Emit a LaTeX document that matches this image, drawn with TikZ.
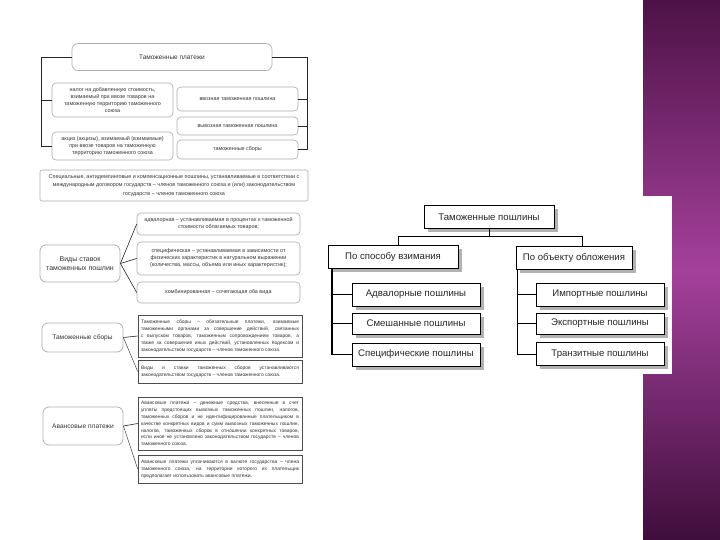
\documentclass[tikz,border=0pt]{standalone}
\usepackage{fontspec}
\setmainfont{Liberation Sans}
\usetikzlibrary{shadows}
\definecolor{bandtop}{HTML}{4E1247}
\definecolor{bandmid}{HTML}{A4419C}
\definecolor{bandbot}{HTML}{3F0E3B}
\definecolor{txt}{HTML}{333333}
\begin{document}
\begin{tikzpicture}[x=1pt,y=-1pt,
  small/.style={font=\fontsize{5.4}{7}\selectfont, text=txt},
  rbox/.style={draw=gray!65, rounded corners=4pt, line width=0.6pt, fill=white, align=center, inner sep=1pt, small},
  head/.style={draw=gray!60, rounded corners=6pt, line width=0.8pt, fill=white, align=center, inner sep=1pt, font=\fontsize{6.6}{9}\selectfont, text=txt},
  jbox/.style={draw=black!70, line width=0.6pt, fill=white, align=justify, inner xsep=3pt, inner ysep=2pt, font=\fontsize{4.9}{6.9}\selectfont\sloppy, text=txt},
  conn/.style={draw=black!85, line width=0.6pt},
  dbox/.style={draw=black, line width=0.7pt, fill=white, font=\fontsize{9.6}{11}\selectfont, text=black!85, minimum height=23pt, inner sep=2pt, drop shadow={shadow xshift=3.5pt, shadow yshift=-3.5pt, fill=black!30, opacity=1}},
  dconn/.style={draw=black, line width=0.7pt}
]
\useasboundingbox (0,0) rectangle (720,540);
\fill[white] (0,0) rectangle (720,540);
% purple band
\shade[top color=bandtop, bottom color=bandbot, middle color=bandmid] (643,0) rectangle (720,540);
% white panel of the right diagram
\fill[white] (322,196) rectangle (672,374);

% ---------------- Section 1 : Таможенные платежи
\node[rbox, font=\fontsize{6.5}{8}\selectfont, minimum width=200pt, minimum height=27pt, rounded corners=6pt] (tp) at (172,57) {Таможенные платежи};
\node[rbox, minimum width=121pt, minimum height=34pt] (lb1) at (112.5,100) {налог на добавленную стоимость,\\ взимаемый при ввозе товаров на\\ таможенную территорию таможенного\\ союза};
\node[rbox, minimum width=121pt, minimum height=28pt] (lb2) at (112.5,146) {акциз (акцизы), взимаемый (взимаемые)\\ при ввозе товаров на таможенную\\ территорию таможенного союза};
\node[rbox, minimum width=121pt, minimum height=24pt] (rb1) at (237.5,99) {ввозная таможенная пошлина};
\node[rbox, minimum width=121pt, minimum height=18pt] (rb2) at (237.5,126) {вывозная таможенная пошлина};
\node[rbox, minimum width=121pt, minimum height=19pt] (rb3) at (237.5,149.5) {таможенные сборы};
\coordinate (LL) at (41,0);
\coordinate (RR) at (307,0);
\draw[conn] (tp.west) -| (LL |- lb2.west) -- (lb2.west);
\draw[conn] (LL |- lb1.west) -- (lb1.west);
\draw[conn] (tp.east) -| (RR |- rb3.east) -- (rb3.east);
\draw[conn] (RR |- rb1.east) -- (rb1.east);
\draw[conn] (RR |- rb2.east) -- (rb2.east);
\node[rbox, font=\fontsize{5.4}{8.2}\selectfont, rounded corners=2pt, minimum width=268pt, minimum height=31pt] (wd) at (174,185.5) {Специальные, антидемпинговые и компенсационные пошлины, устанавливаемые в соответствии с\\ международным договором государств – членов таможенного союза и (или) законодательством\\ государств – членов таможенного союза};

% ---------------- Section 2 : Виды ставок
\node[head, font=\fontsize{7}{9.5}\selectfont, minimum width=80pt, minimum height=37pt] (vs) at (80,263.5) {Виды ставок\\ таможенных пошлин};
\node[rbox, minimum width=163pt, minimum height=22pt] (va) at (218.5,224) {адвалорная – устанавливаемая в процентах к таможенной\\ стоимости облагаемых товаров;};
\node[rbox, minimum width=163pt, minimum height=33pt] (vb) at (218.5,258.5) {специфическая – устанавливаемая в зависимости от\\ физических характеристик в натуральном выражении\\ (количества, массы, объема или иных характеристик);};
\node[rbox, minimum width=163pt, minimum height=21pt] (vc) at (218.5,292.5) {комбинированная – сочетающая оба вида};
\draw[conn] (vs.east) -- (va.west);
\draw[conn] (vs.east) -- (vb.west);
\draw[conn] (vs.east) -- (vc.west);

% ---------------- Section 3 : Таможенные сборы
\node[head, minimum width=81pt, minimum height=29pt] (ts) at (82.5,337.5) {Таможенные сборы};
\node[jbox, text width=158pt, minimum height=42pt] (tsa) at (220,336) {Таможенные сборы – обязательные платежи, взимаемые таможенными органами за совершение действий, связанных с выпуском товаров, таможенным сопровождением товаров, а также за совершение иных действий, установленных Кодексом и законодательством государств – членов таможенного союза.};
\node[jbox, text width=158pt, minimum height=23pt] (tsb) at (220,371.5) {Виды и ставки таможенных сборов устанавливаются\linebreak законодательством государств – членов таможенного союза.};
\draw[conn] (ts.east) -- (tsa.west);
\draw[conn, line width=0.4pt] (ts.east) -- (tsb.west);

% ---------------- Section 4 : Авансовые платежи
\node[head, minimum width=80pt, minimum height=38pt] (ap) at (83,426) {Авансовые платежи};
\node[jbox, text width=158pt, minimum height=53pt] (apa) at (220,423.5) {Авансовые платежи – денежные средства, внесенные в счет уплаты предстоящих вывозных таможенных пошлин, налогов, таможенных сборов и не идентифицированные плательщиком в качестве конкретных видов и сумм вывозных таможенных пошлин, налогов, таможенных сборов в отношении конкретных товаров, если иное не установлено законодательством государств – членов таможенного союза.};
\node[jbox, text width=158pt, minimum height=28pt] (apb) at (220,469) {Авансовые платежи уплачиваются в валюте государства – члена таможенного союза, на территории которого их плательщик предполагает использовать авансовые платежи.};
\draw[conn] (ap.east) -- (apa.west);
\draw[conn, line width=0.4pt] (ap.east) -- (apb.west);

% ---------------- Right diagram : Таможенные пошлины
\node[dbox, minimum width=130pt] (tt) at (489,217) {Таможенные пошлины};
\node[dbox, minimum width=130pt] (ps) at (393,256.5) {По способу взимания};
\node[dbox, minimum width=116pt] (po) at (574,257.5) {По объекту обложения};
\node[dbox, minimum width=128pt] (s1) at (416,294.5) {Адвалорные пошлины};
\node[dbox, minimum width=128pt, minimum height=21pt] (s2) at (416,323.5) {Смешанные пошлины};
\node[dbox, minimum width=128pt] (s3) at (416,354.5) {Специфические пошлины};
\node[dbox, minimum width=128pt] (o1) at (600,294.5) {Импортные пошлины};
\node[dbox, minimum width=128pt, minimum height=21pt] (o2) at (600,323.5) {Экспортные пошлины};
\node[dbox, minimum width=128pt] (o3) at (600,354) {Транзитные пошлины};
\coordinate (J) at (489,236);
\coordinate (JL) at (398,236);
\coordinate (JR) at (582,236);
\draw[dconn] (tt.south) -- (J);
\draw[dconn] (JL |- ps.north) -- (JL) -- (JR) -- (JR |- po.north);
\coordinate (LC) at (332,0);
\coordinate (RC) at (517,0);
\draw[dconn, line width=1.1pt] (LC |- ps.south) -- (LC |- s3.west) -- (s3.west);
\draw[dconn, line width=1.7pt] (LC |- s1.west) -- (s1.west);
\draw[dconn] (LC |- s2.west) -- (s2.west);
\draw[dconn] (RC |- po.south) -- (RC |- o3.west) -- (o3.west);
\draw[dconn, line width=1.7pt] (RC |- o1.west) -- (o1.west);
\draw[dconn] (RC |- o2.west) -- (o2.west);
\end{tikzpicture}
\end{document}
